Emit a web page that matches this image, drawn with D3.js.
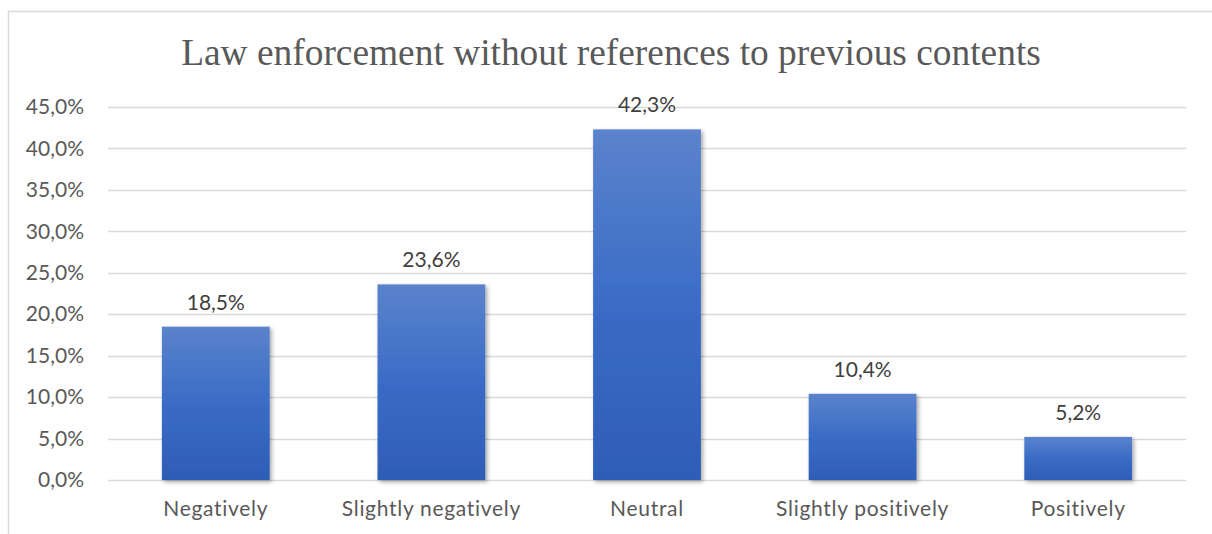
<!DOCTYPE html>
<html>
<head>
<meta charset="utf-8">
<script src="https://cdn.jsdelivr.net/npm/d3@7"></script>
<style>
  html, body { margin: 0; padding: 0; background: #fff; }
  svg { display: block; }
</style>
</head>
<body>
<svg id="chart" width="1212" height="534"></svg>
<script>
// Survey responses: effect of law enforcement without references to previous contents
const categories = ["Negatively", "Slightly negatively", "Neutral", "Slightly positively", "Positively"];
const shares = [18.5, 23.6, 42.3, 10.4, 5.2];
const yTicks = [0, 5, 10, 15, 20, 25, 30, 35, 40, 45];
const title = "Law enforcement without references to previous contents";

const svg = d3.select("#chart");
const plot = { left: 108, right: 1186, top: 107, bottom: 480 };
const labelFont = "Lato, 'Open Sans', sans-serif";
const labelSize = 21;

const fmt = v => d3.format(".1f")(v).replace(".", ",") + "%";

// Frame of the chart area
svg.append("rect")
  .attr("x", 8.5).attr("y", 11.5)
  .attr("width", 1230).attr("height", 560)
  .attr("fill", "#fff")
  .attr("stroke", "#d9d9d9").attr("stroke-width", 1.5);

const defs = svg.append("defs");
const grad = defs.append("linearGradient")
  .attr("id", "barFill").attr("x1", 0).attr("y1", 0).attr("x2", 0).attr("y2", 1);
grad.append("stop").attr("offset", "0%").attr("stop-color", "#5b83cc");
grad.append("stop").attr("offset", "50%").attr("stop-color", "#3a6cc6");
grad.append("stop").attr("offset", "100%").attr("stop-color", "#2e5db6");

const shadow = defs.append("filter").attr("id", "barShadow")
  .attr("x", "-20%").attr("y", "-20%").attr("width", "140%").attr("height", "140%");
shadow.append("feDropShadow")
  .attr("dx", 2).attr("dy", 2).attr("stdDeviation", 2.2)
  .attr("flood-color", "#000").attr("flood-opacity", 0.35);

const x = d3.scaleBand()
  .domain(categories)
  .range([plot.left, plot.right])
  .paddingInner(0.5).paddingOuter(0.25);

const y = d3.scaleLinear()
  .domain([0, 45])
  .range([plot.bottom, plot.top]);

// Gridlines
svg.append("g")
  .selectAll("line")
  .data(yTicks)
  .join("line")
  .attr("x1", plot.left).attr("x2", plot.right)
  .attr("y1", d => Math.round(y(d)) + 0.5)
  .attr("y2", d => Math.round(y(d)) + 0.5)
  .attr("stroke", "#d9d9d9").attr("stroke-width", 1.5);

// Y axis labels
const yAxis = d3.axisLeft(y)
  .tickValues(yTicks)
  .tickFormat(fmt)
  .tickSize(0)
  .tickPadding(0);
const yg = svg.append("g")
  .attr("transform", `translate(84,0)`)
  .call(yAxis);
yg.select(".domain").remove();
yg.selectAll("text")
  .attr("font-family", labelFont)
  .attr("font-size", labelSize)
  .attr("fill", "#595959");

// Bars
svg.append("g")
  .selectAll("rect")
  .data(categories)
  .join("rect")
  .attr("x", d => x(d))
  .attr("width", x.bandwidth())
  .attr("y", (d, i) => y(shares[i]))
  .attr("height", (d, i) => y(0) - y(shares[i]))
  .attr("fill", "url(#barFill)")
  .attr("filter", "url(#barShadow)");

// Value labels
svg.append("g")
  .selectAll("text")
  .data(categories)
  .join("text")
  .attr("x", d => x(d) + x.bandwidth() / 2)
  .attr("y", (d, i) => y(shares[i]) - 17)
  .attr("text-anchor", "middle")
  .attr("font-family", labelFont)
  .attr("font-size", labelSize)
  .attr("fill", "#404040")
  .text((d, i) => fmt(shares[i]));

// Category axis
const xAxis = d3.axisBottom(x).tickSize(0).tickPadding(0);
const xg = svg.append("g")
  .attr("transform", `translate(0,${plot.bottom + 36})`)
  .call(xAxis);
xg.select(".domain").remove();
xg.selectAll("text")
  .attr("dy", 0)
  .attr("font-family", labelFont)
  .attr("font-size", labelSize)
  .attr("letter-spacing", 0.7)
  .attr("fill", "#595959");

// Title
svg.append("text")
  .attr("x", 611).attr("y", 65)
  .attr("text-anchor", "middle")
  .attr("font-family", "'Liberation Serif', 'Times New Roman', serif")
  .attr("font-size", 37.4)
  .attr("fill", "#595959")
  .text(title);
</script>
</body>
</html>
